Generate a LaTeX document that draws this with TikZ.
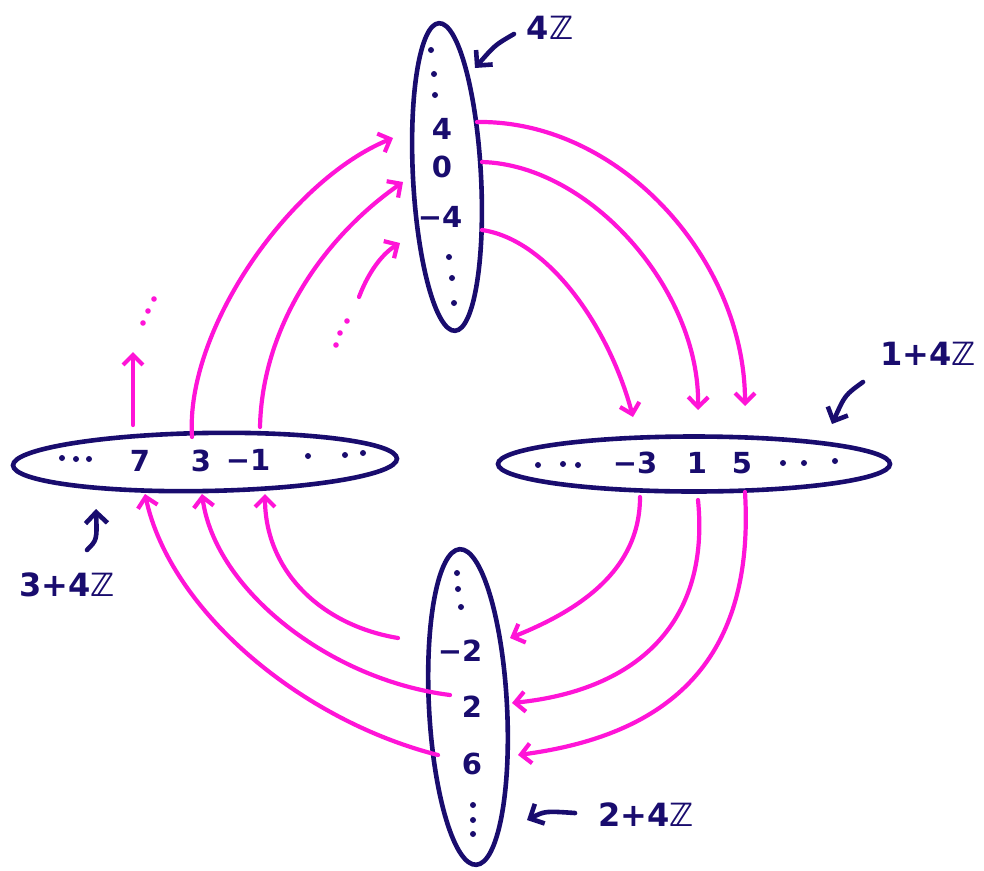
\documentclass[tikz,border=0pt]{standalone}
\usepackage{fontspec}
\setmainfont{DejaVu Sans}
\usetikzlibrary{shapes.geometric,arrows.meta}
\definecolor{navy}{RGB}{25,12,110}
\definecolor{mag}{RGB}{255,20,215}
\tikzset{
  coset/.style={ellipse,draw=navy,line width=4.6pt,inner sep=0pt},
  num/.style={text=navy,font=\bfseries\fontsize{29}{34}\selectfont,inner sep=0pt},
  lab/.style={text=navy,font=\bfseries\fontsize{32}{38}\selectfont,inner sep=0pt},
  mapar/.style={draw=mag,line width=4.2pt,line cap=round,-{Straight Barb[length=10pt,width=20pt,line width=4.2pt]}},
  navar/.style={draw=navy,line width=4.6pt,line cap=round,-{Straight Barb[length=11pt,width=22pt,line width=4.6pt]}},
  ndot/.style={fill=navy},
  mdot/.style={fill=mag}
}
\begin{document}
\begin{tikzpicture}[x=1pt,y=-1pt]
\useasboundingbox (0,0) rectangle (984,870);
% cosets
\node[coset,minimum width=68pt,minimum height=308pt,rotate=3] (top) at (447,177) {};
\node[coset,minimum width=78pt,minimum height=316pt,rotate=3] (bot) at (468,707) {};
\node[coset,minimum width=384pt,minimum height=58pt,rotate=1] (lft) at (205,462) {};
\node[coset,minimum width=392pt,minimum height=55pt] (rgt) at (694,464) {};
% top contents
\foreach \p in {(431,50),(434,74),(435,95),(449,257),(452,278),(454,303)} \fill[ndot] \p circle (3);
\node[num] (t4) at (442,129) {4};
\node[num] (t0) at (442,167) {0};
\node[num] (tm4) at (440,217) {−4};
% bottom contents
\foreach \p in {(457,573),(458,589),(461,607),(473,805),(473,820),(473,834)} \fill[ndot] \p circle (3);
\node[num] (bm2) at (460,651) {−2};
\node[num] (b2) at (472,707) {2};
\node[num] (b6) at (472,764) {6};
% left contents
\foreach \p in {(62,458),(76,459),(89,459),(308,456),(345,455),(363,453)} \fill[ndot] \p circle (3);
\node[num] (l7) at (140,461) {7};
\node[num] (l3) at (201,461) {3};
\node[num] (lm1) at (248,460) {−1};
% right contents
\foreach \p in {(538,465),(563,464),(578,465),(783,463),(804,463),(835,461)} \fill[ndot] \p circle (3);
\node[num] (rm3) at (635,463) {−3};
\node[num] (r1) at (697,463) {1};
\node[num] (r5) at (742,463) {5};
% labels
\node[lab] (L0) at (550,28) {4ℤ};
\node[lab] (L1) at (928,354) {1+4ℤ};
\node[lab] (L3) at (67,585) {3+4ℤ};
\node[lab] (L2) at (646,815) {2+4ℤ};
\coordinate (L0s) at (514,34); \coordinate (L0e) at (475,68);
\coordinate (L1s) at (863,382); \coordinate (L1e) at (832,424);
\coordinate (L3s) at (87,550); \coordinate (L3e) at (96,509);
\coordinate (L2s) at (575,813); \coordinate (L2e) at (527,820);
\draw[navar] (L0s) .. controls (495,45) .. (L0e);
\draw[navar] (L1s) .. controls (845,395) .. (L1e);
\draw[navar] (L3s) .. controls (97,540) .. (L3e);
\draw[navar] (L2s) .. controls (545,811) .. (L2e);
% connector ends
\coordinate (a1s) at (477,122); \coordinate (a1e) at (745,406);
\coordinate (a2s) at (482,162); \coordinate (a2e) at (698,410);
\coordinate (a3s) at (482,230); \coordinate (a3e) at (633,417);
\coordinate (b1s) at (640,497); \coordinate (b1e) at (510,638);
\coordinate (b2s) at (698,500); \coordinate (b2e) at (512,703);
\coordinate (b3s) at (745,492); \coordinate (b3e) at (518,755);
\coordinate (c1s) at (398,638); \coordinate (c1e) at (265,494);
\coordinate (c2s) at (450,695); \coordinate (c2e) at (202,494);
\coordinate (c3s) at (438,755); \coordinate (c3e) at (145,494);
\coordinate (d1s) at (192,437); \coordinate (d1e) at (393,138);
\coordinate (d2s) at (260,427); \coordinate (d2e) at (403,182);
\coordinate (d3s) at (359,297); \coordinate (d3e) at (400,243);
\coordinate (d4s) at (133,425); \coordinate (d4e) at (133,352);
% top -> right
\draw[mapar] (a1s) .. controls (620,120) and (745,260) .. (a1e);
\draw[mapar] (a2s) .. controls (590,165) and (700,290) .. (a2e);
\draw[mapar] (a3s) .. controls (550,240) and (610,330) .. (a3e);
% right -> bottom
\draw[mapar] (b1s) .. controls (640,570) and (580,610) .. (b1e);
\draw[mapar] (b2s) .. controls (710,620) and (640,690) .. (b2e);
\draw[mapar] (b3s) .. controls (755,660) and (670,735) .. (b3e);
% bottom -> left
\draw[mapar] (c1s) .. controls (320,625) and (265,570) .. (c1e);
\draw[mapar] (c2s) .. controls (330,680) and (215,590) .. (c2e);
\draw[mapar] (c3s) .. controls (300,720) and (170,610) .. (c3e);
% left -> top
\draw[mapar] (d1s) .. controls (185,330) and (290,180) .. (d1e);
\draw[mapar] (d2s) .. controls (262,330) and (320,240) .. (d2e);
\draw[mapar] (d3s) .. controls (370,268) and (385,252) .. (d3e);
\draw[mapar] (d4s) -- (d4e);
\foreach \p in {(347,321),(340,333),(336,345),(154,299),(148,311),(143,323)} \fill[mdot] \p circle (2.8);
\end{tikzpicture}
\end{document}
